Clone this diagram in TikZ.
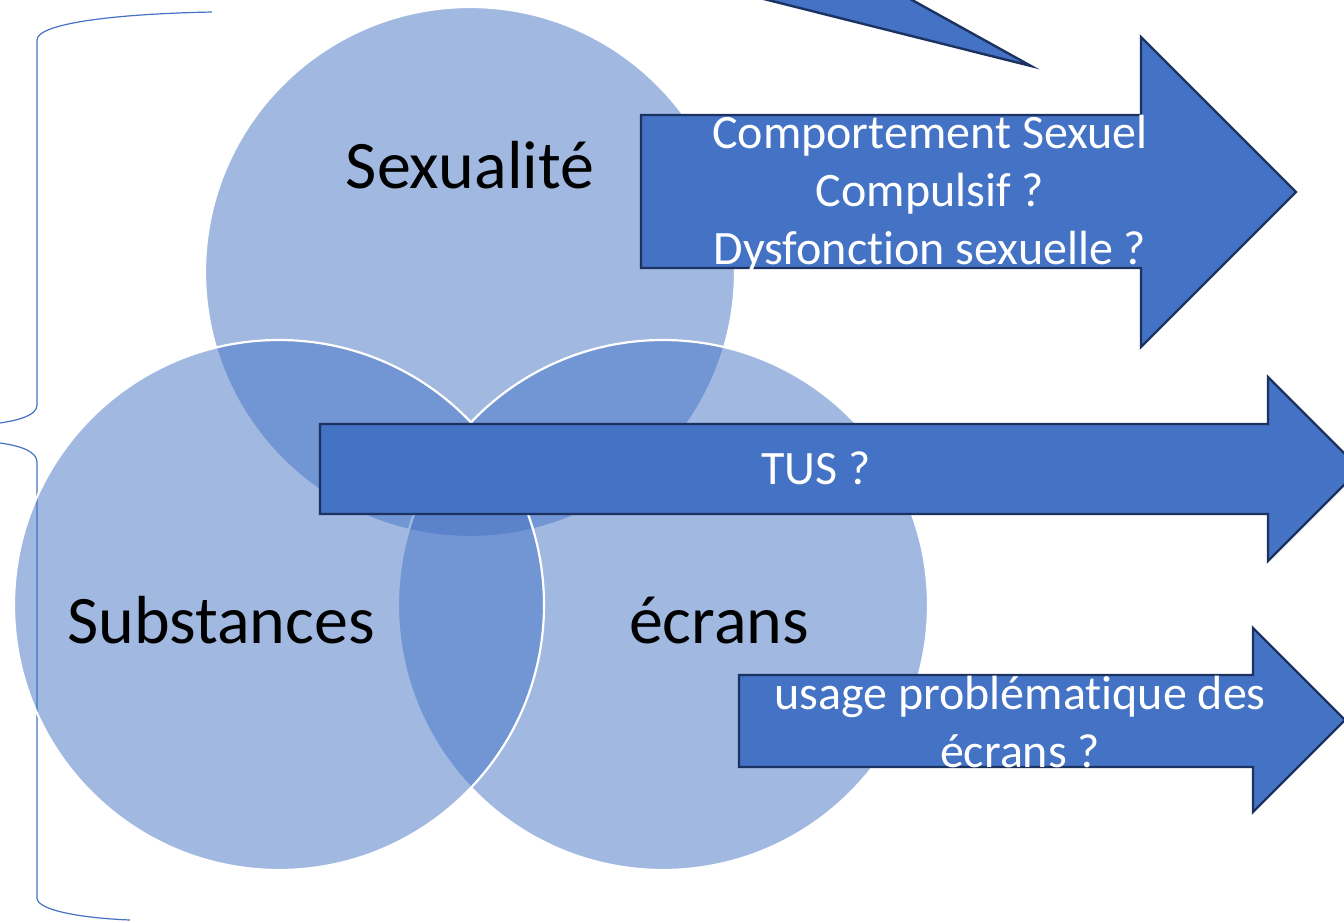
\documentclass[tikz,border=0pt]{standalone}
\usepackage{fontspec}
\setmainfont{Carlito}[Ligatures=NoCommon]
\definecolor{mblue}{HTML}{4472C4}
\definecolor{mnavy}{HTML}{1C3260}
\tikzset{venn/.style = {fill=mblue, fill opacity=0.5, draw=white, line width=1.1pt},
         bigarrow/.style = {fill=mblue, draw=mnavy, line width=1.2pt, line join=miter},
         brace/.style = {draw=mblue, line width=0.6pt},
         vtext/.style = {font=\fontsize{34}{40}\selectfont, text=black, inner sep=0pt},
         atext/.style = {font=\fontsize{24}{29}\selectfont, text=white, align=center, inner sep=0pt}}

\begin{document}
\begin{tikzpicture}[x=0.5pt, y=-0.5pt]
    \useasboundingbox (0, 0) rectangle (1344, 922);
    \clip (0, 0) rectangle (1344, 922);

    % brackets on the left
    \draw [brace] (212, 12) .. controls (110, 14) and (37, 24) .. (37, 40) -- (37, 405)
                  .. controls (37, 415) and (20, 420) .. (0, 423);
    \draw [brace] (0, 443) .. controls (22, 446) and (37, 452) .. (37, 462) -- (37, 898)
                  .. controls (37, 910) and (80, 918) .. (130, 920);

    % piece of an arrow cut by the top edge
    \draw [bigarrow] (728, -10) -- (1031, 66) -- (894, -10) -- cycle;

    % the three circles
    \draw [venn] (470, 272) circle [radius=132.5pt];
    \draw [venn] (663, 605) circle [radius=132.5pt];
    \draw [venn] (279, 605) circle [radius=132.5pt];

    % arrows
    \draw [bigarrow] (641, 115) -- (1141, 115) -- (1141, 37) -- (1296, 192) -- (1141, 347) -- (1141, 268) -- (641, 268) -- cycle;
    \draw [bigarrow] (320, 424) -- (1268, 424) -- (1268, 377) -- (1360, 469) -- (1268, 561) -- (1268, 514) -- (320, 514) -- cycle;
    \draw [bigarrow] (739, 675) -- (1253, 675) -- (1253, 628) -- (1345, 720) -- (1253, 812) -- (1253, 767) -- (739, 767) -- cycle;

    \node [vtext, anchor=base] (sexualite) at (470, 188) {Sexualité};
    \node [vtext, anchor=base] (substances) at (221, 643) {Substances};
    \node [vtext, anchor=base] (ecrans) at (719, 643) {écrans};

    \node [atext] (compulsif) at (930, 194) {Comportement Sexuel\\Compulsif ?\\Dysfonction sexuelle ?};
    \node [atext, anchor=base] (tus) at (816, 484) {TUS ?};
    \node [atext] (usage) at (1020, 722) {usage problématique des\\écrans ?};
\end{tikzpicture}
\end{document}
